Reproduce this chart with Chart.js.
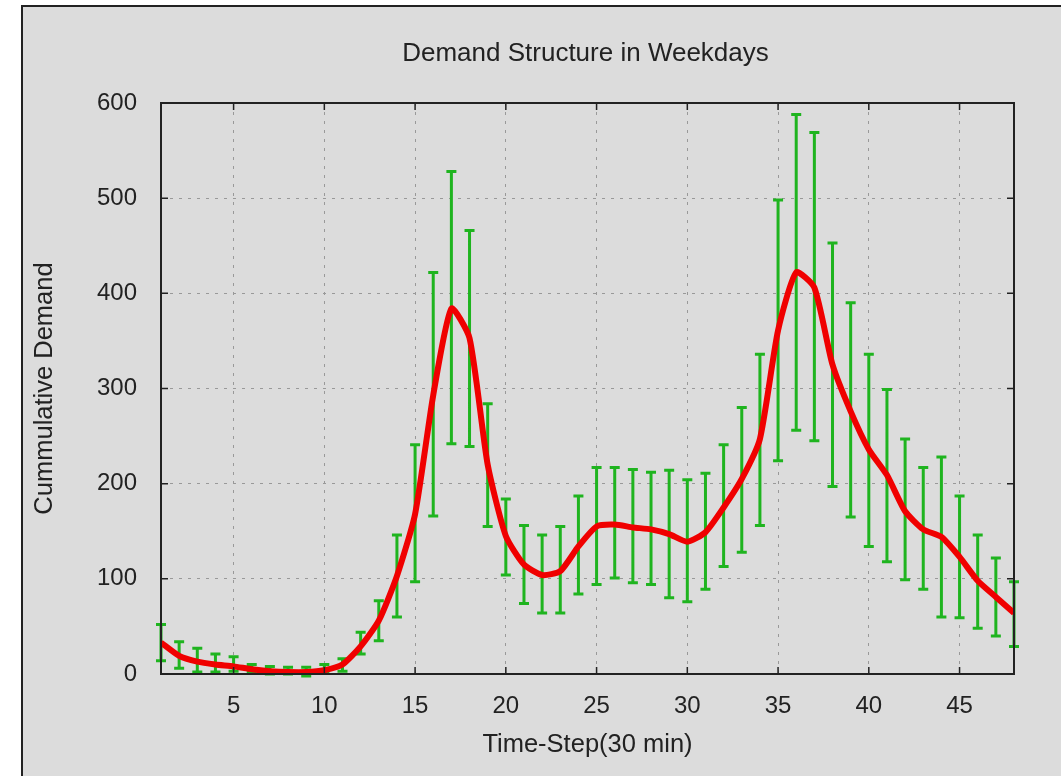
<!DOCTYPE html>
<html>
<head>
<meta charset="utf-8">
<script src="https://cdn.jsdelivr.net/npm/chart.js@4.4.1/dist/chart.umd.min.js"></script>
<style>
  html, body { margin: 0; padding: 0; background: #fff; }
</style>
</head>
<body>
<canvas id="chart" width="1061" height="776"></canvas>
<script>
// time steps (30 min each)
const steps = [1, 2, 3, 4, 5, 6, 7, 8, 9, 10, 11, 12, 13, 14, 15, 16,
  17, 18, 19, 20, 21, 22, 23, 24, 25, 26, 27, 28, 29, 30, 31, 32,
  33, 34, 35, 36, 37, 38, 39, 40, 41, 42, 43, 44, 45, 46, 47, 48];

// mean demand (red line)
const meanDemand = [33, 19, 13, 10, 8, 5, 3, 2, 2, 4, 10, 29, 56, 103, 168, 293,
  384, 353, 220, 145, 115, 104, 108, 134, 155, 157, 154, 152, 147, 139, 149, 175,
  205, 247, 361, 422, 406, 325, 276, 236, 209, 171, 152, 144, 123, 98, 81, 64];

// error bar ends (green)
const lowDemand = [14, 6, 2, 2, 3, 2, 0, 0, -2, 1, 3, 21, 35, 60, 97, 166,
  242, 239, 155, 104, 74, 64, 64, 84, 94, 101, 96, 94, 80, 76, 89, 113,
  128, 156, 224, 256, 245, 197, 165, 134, 118, 99, 89, 60, 59, 48, 40, 29];
const highDemand = [52, 34, 27, 21, 18, 10, 8, 7, 7, 10, 16, 44, 77, 146, 241, 422,
  528, 466, 284, 184, 156, 146, 155, 187, 217, 217, 215, 212, 214, 204, 211, 241,
  280, 336, 498, 588, 569, 453, 390, 336, 299, 247, 217, 228, 187, 146, 122, 97];

const xTicks = [5, 10, 15, 20, 25, 30, 35, 40, 45];
const yTicks = [0, 100, 200, 300, 400, 500, 600];

const FONT = 'Liberation Sans, Arial, sans-serif';
const TEXT = '#222';

// gray frame, chart title, plot border and inward ticks
const framePlugin = {
  id: 'frame',
  beforeDraw(chart) {
    const { ctx, width, height, chartArea } = chart;
    ctx.save();
    ctx.fillStyle = '#fff';
    ctx.fillRect(0, 0, width, height);
    ctx.fillStyle = '#dcdcdc';
    ctx.fillRect(22, 6, width - 22, height - 6);
    ctx.strokeStyle = '#222';
    ctx.lineWidth = 2;
    ctx.beginPath();
    ctx.moveTo(22, height);
    ctx.lineTo(22, 6);
    ctx.lineTo(width, 6);
    ctx.stroke();

    ctx.fillStyle = TEXT;
    ctx.font = '26px ' + FONT;
    ctx.textAlign = 'center';
    ctx.textBaseline = 'middle';
    ctx.fillText('Demand Structure in Weekdays', (chartArea.left + chartArea.right) / 2 - 2, 54);
    ctx.restore();
  },
  afterDraw(chart) {
    const { ctx, chartArea: a, scales } = chart;
    ctx.save();
    ctx.strokeStyle = '#222';
    ctx.lineWidth = 2;
    ctx.strokeRect(a.left, a.top, a.right - a.left, a.bottom - a.top);
    ctx.lineWidth = 1.5;
    ctx.beginPath();
    xTicks.forEach(v => {
      const px = scales.x.getPixelForValue(v);
      ctx.moveTo(px, a.bottom); ctx.lineTo(px, a.bottom - 7);
      ctx.moveTo(px, a.top); ctx.lineTo(px, a.top + 7);
    });
    yTicks.forEach(v => {
      const py = scales.y.getPixelForValue(v);
      ctx.moveTo(a.left, py); ctx.lineTo(a.left + 7, py);
      ctx.moveTo(a.right, py); ctx.lineTo(a.right - 7, py);
    });
    ctx.stroke();
    ctx.restore();
  }
};

// vertical error bars with caps, drawn under the line
const errorBarPlugin = {
  id: 'errorBars',
  beforeDatasetsDraw(chart) {
    const { ctx, scales } = chart;
    ctx.save();
    ctx.strokeStyle = '#1fb41f';
    ctx.lineWidth = 3;
    ctx.beginPath();
    steps.forEach((s, i) => {
      const px = scales.x.getPixelForValue(s);
      const lo = scales.y.getPixelForValue(lowDemand[i]);
      const hi = scales.y.getPixelForValue(highDemand[i]);
      ctx.moveTo(px, lo); ctx.lineTo(px, hi);
      ctx.moveTo(px - 5, lo); ctx.lineTo(px + 5, lo);
      ctx.moveTo(px - 5, hi); ctx.lineTo(px + 5, hi);
    });
    ctx.stroke();
    ctx.restore();
  }
};

new Chart(document.getElementById('chart').getContext('2d'), {
  type: 'line',
  data: {
    datasets: [
      {
        label: 'Mean demand',
        data: steps.map((s, i) => ({ x: s, y: meanDemand[i] })),
        borderColor: '#f00000',
        borderWidth: 6,
        borderJoinStyle: 'round',
        pointRadius: 0,
        tension: 0.2,
        fill: false,
      },
    ],
  },
  options: {
    responsive: false,
    animation: false,
    layout: { padding: { left: 22, top: 103, right: 47, bottom: 0 } },
    plugins: {
      legend: { display: false },
      tooltip: { enabled: false },
    },
    scales: {
      x: {
        type: 'linear',
        min: 1,
        max: 48,
        afterBuildTicks: (scale) => { scale.ticks = xTicks.map(v => ({ value: v })); },
        afterFit: (scale) => { scale.height = 102; },
        grid: { color: '#999', lineWidth: 1, drawTicks: false },
        border: { display: false, dash: [3, 6] },
        ticks: { color: TEXT, font: { family: FONT, size: 24 }, padding: 18, maxRotation: 0 },
        title: { display: true, text: 'Time-Step(30 min)', color: TEXT, font: { family: FONT, size: 25.5 }, padding: 16 },
      },
      y: {
        min: 0,
        max: 600,
        afterBuildTicks: (scale) => { scale.ticks = yTicks.map(v => ({ value: v })); },
        afterFit: (scale) => { scale.width = 139; },
        grid: { color: '#999', lineWidth: 1, drawTicks: false },
        border: { display: false, dash: [3, 6] },
        ticks: { color: TEXT, font: { family: FONT, size: 24 }, padding: 24 },
        title: { display: true, text: 'Cummulative Demand', color: TEXT, font: { family: FONT, size: 25.5 }, padding: 8 },
      },
    },
  },
  plugins: [framePlugin, errorBarPlugin],
});
</script>
</body>
</html>
